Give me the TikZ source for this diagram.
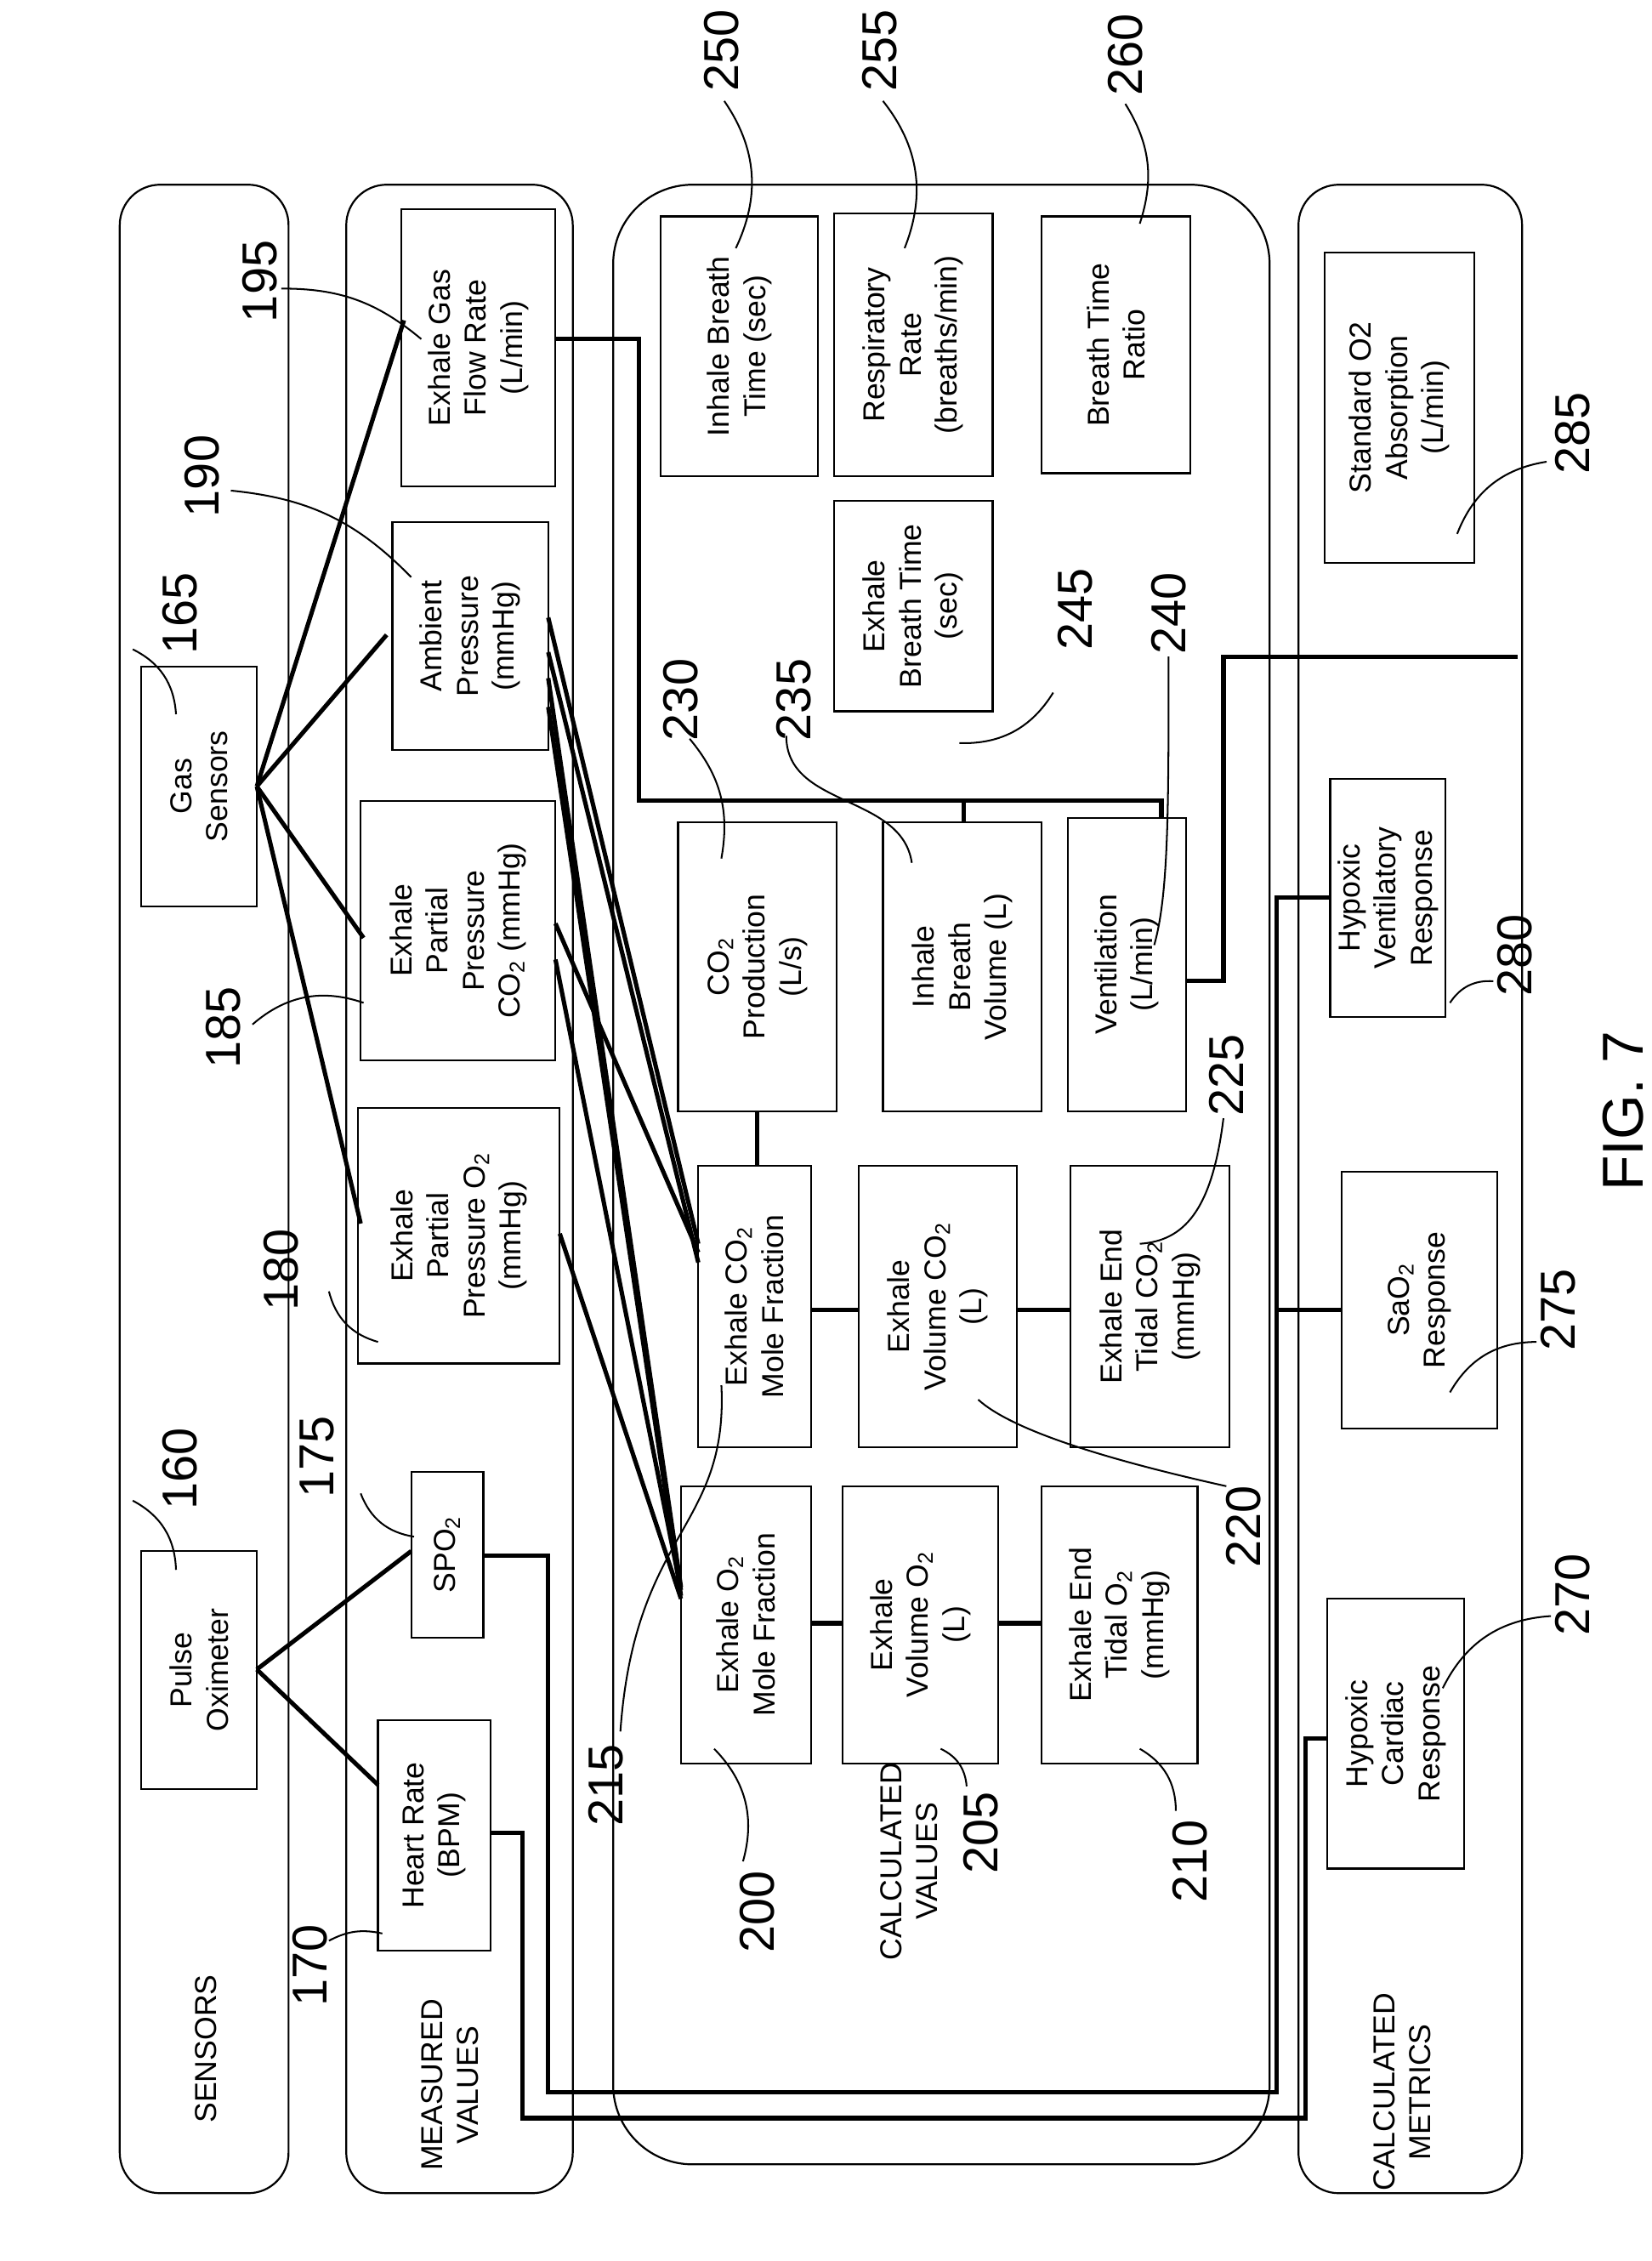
\documentclass[tikz,border=0pt]{standalone}
\usepackage{fontspec}
\setmainfont{Liberation Sans}
\begin{document}
\begin{tikzpicture}[x=1pt,y=-1pt,
 box/.style={draw,line width=1.3pt,inner sep=0pt,outer sep=0pt},
 txt/.style={rotate=90,align=center,font=\fontsize{21}{25}\selectfont},
 num/.style={rotate=90,font=\fontsize{34}{36}\selectfont},
 pan/.style={draw,line width=1.3pt,rounded corners=28pt},
 con/.style={line width=3pt},
 lead/.style={line width=1.2pt}]
\useasboundingbox (0,0) rectangle (1145,1567);
\newcommand\bx[6]{\node[box,minimum width={(#4-#2)*1pt},minimum height={(#5-#3)*1pt}] (#1) at ({(#2+#4)/2},{(#3+#5)/2}) {};\node[txt] at (#1) {#6};}
% panels
\node[pan,minimum width=117pt,minimum height=1392pt,inner sep=0pt] (psens) at (141.5,824) {};
\node[pan,minimum width=157pt,minimum height=1392pt,inner sep=0pt] (pmeas) at (318.5,824) {};
\node[draw,line width=1.3pt,rounded corners=55pt,minimum width=455pt,minimum height=1372pt,inner sep=0pt] (pcalc) at (652.5,814) {};
\node[pan,minimum width=155pt,minimum height=1392pt,inner sep=0pt] (pmet) at (977.5,824) {};
\node[txt] at (143,1420) {SENSORS};
\node[txt] at (312,1445) {MEASURED\\VALUES};
\node[txt] at (630,1290) {CALCULATED\\VALUES};
\node[txt] at (972,1450) {CALCULATED\\METRICS};
% boxes
\bx{gas}{98}{462}{178}{628}{Gas\\Sensors}
\bx{pox}{98}{1075}{178}{1240}{Pulse\\Oximeter}
\bx{flow}{278}{145}{385}{337}{Exhale Gas\\Flow Rate\\(L/min)}
\bx{amb}{272}{362}{380}{520}{Ambient\\Pressure\\(mmHg)}
\bx{ppco}{250}{555}{385}{735}{Exhale\\Partial\\Pressure\\CO\textsubscript{2} (mmHg)}
\bx{ppo}{248}{768}{388}{945}{Exhale\\Partial\\Pressure O\textsubscript{2}\\(mmHg)}
\bx{spo}{285}{1020}{335}{1135}{SPO\textsubscript{2}}
\bx{hr}{262}{1192}{340}{1352}{Heart Rate\\(BPM)}
\bx{ibt}{458}{150}{567}{330}{Inhale Breath\\Time (sec)}
\bx{rr}{578}{148}{688}{330}{Respiratory\\Rate\\(breaths/min)}
\bx{btr}{722}{150}{825}{328}{Breath Time\\Ratio}
\bx{ebt}{578}{347}{688}{493}{Exhale\\Breath Time\\(sec)}
\bx{cop}{470}{570}{580}{770}{CO\textsubscript{2}\\Production\\(L/s)}
\bx{ibv}{612}{570}{722}{770}{Inhale\\Breath\\Volume (L)}
\bx{ven}{740}{567}{822}{770}{Ventilation\\(L/min)}
\bx{comf}{484}{808}{562}{1003}{Exhale CO\textsubscript{2}\\Mole Fraction}
\bx{vco}{595}{808}{705}{1003}{Exhale\\Volume CO\textsubscript{2}\\(L)}
\bx{etco}{742}{808}{852}{1003}{Exhale End\\Tidal CO\textsubscript{2}\\(mmHg)}
\bx{omf}{472}{1030}{562}{1222}{Exhale O\textsubscript{2}\\Mole Fraction}
\bx{vo}{584}{1030}{692}{1222}{Exhale\\Volume O\textsubscript{2}\\(L)}
\bx{eto}{722}{1030}{830}{1222}{Exhale End\\Tidal O\textsubscript{2}\\(mmHg)}
\bx{soa}{918}{175}{1022}{390}{Standard O2\\Absorption\\(L/min)}
\bx{hvr}{922}{540}{1002}{705}{Hypoxic\\Ventilatory\\Response}
\bx{sao}{930}{812}{1038}{990}{SaO\textsubscript{2}\\Response}
\bx{hcr}{920}{1108}{1015}{1295}{Hypoxic\\Cardiac\\Response}
% sensor connectors
\coordinate (g) at (178,545);
\draw[con] (g) -- (280,222);
\draw[con] (g) -- (268,440);
\draw[con] (g) -- (252,650);
\draw[con] (g) -- (250,848);
\coordinate (p) at (178,1157);
\draw[con] (p) -- (285,1075);
\draw[con] (p) -- (262,1237);
% fan lines
\draw[con] (380,428) -- (484,862);
\draw[con] (380,452) -- (484,875);
\draw[con] (380,470) -- (472,1100);
\draw[con] (380,490) -- (472,1106);
\draw[con] (385,640) -- (484,868);
\draw[con] (385,665) -- (472,1102);
\draw[con] (388,855) -- (472,1108);
% calc connectors
\draw[con] (flow.east |- 0,235) -- (443,235) -- (443,555) -- (805,555) -- (805,567);
\draw[con] (668,555) -- (668,570);
\draw[con] (525,770) -- (525,808);
\draw[con] (562,908) -- (595,908);
\draw[con] (705,908) -- (742,908);
\draw[con] (562,1125) -- (584,1125);
\draw[con] (692,1125) -- (722,1125);
\draw[con] (822,680) -- (848,680) -- (848,455) -- (1052,455);
% metrics bus
\draw[con] (335,1078) -- (380,1078) -- (380,1450) -- (885,1450) -- (885,622) -- (hvr.west |- 0,622);
\draw[con] (885,908) -- (930,908);
\draw[con] (340,1270) -- (362,1270) -- (362,1468) -- (905,1468) -- (905,1205) -- (920,1205);
% labels
\node[num] at (125,1018) {160}; \draw[lead] (92,1040) to[bend left=30] (122,1088);
\node[num] at (125,425) {165}; \draw[lead] (92,450) to[bend left=30] (122,495);
\node[num] at (215,1362) {170}; \draw[lead] (228,1345) to[bend left=20] (265,1340);
\node[num] at (220,1010) {175}; \draw[lead] (250,1035) to[bend right=30] (287,1065);
\node[num] at (195,880) {180}; \draw[lead] (228,895) to[bend right=30] (262,930);
\node[num] at (155,712) {185}; \draw[lead] (175,710) to[bend left=30] (252,695);
\node[num] at (140,330) {190}; \draw[lead] (160,340) to[bend left=20] (285,400);
\node[num] at (180,195) {195}; \draw[lead] (195,200) to[bend left=20] (292,235);
\node[num] at (525,1325) {200}; \draw[lead] (515,1290) to[bend right=30] (495,1212);
\node[num] at (680,1270) {205}; \draw[lead] (670,1238) to[bend right=30] (652,1212);
\node[num] at (825,1290) {210}; \draw[lead] (815,1255) to[bend right=30] (790,1212);
\node[num] at (420,1237) {215}; \draw[lead] (430,1200) .. controls (440,1060) and (505,1060) .. (500,960);
\node[num] at (862,1058) {220}; \draw[lead] (850,1030) .. controls (760,1010) and (700,990) .. (678,970);
\node[num] at (850,745) {225}; \draw[lead] (848,775) .. controls (840,840) and (820,860) .. (790,862);
\node[num] at (472,485) {230}; \draw[lead] (478,512) to[bend left=25] (500,595);
\node[num] at (550,485) {235}; \draw[lead] (545,510) .. controls (545,560) and (625,550) .. (632,598);
\node[num] at (810,425) {240}; \draw[lead] (810,455) .. controls (810,560) and (810,620) .. (800,655);
\node[num] at (745,422) {245}; \draw[lead] (730,480) to[bend left=30] (665,515);
\node[num] at (500,35) {250}; \draw[lead] (502,70) to[bend left=30] (510,172);
\node[num] at (610,35) {255}; \draw[lead] (612,70) to[bend left=30] (627,172);
\node[num] at (780,38) {260}; \draw[lead] (780,72) to[bend left=25] (790,155);
\node[num] at (1090,1105) {270}; \draw[lead] (1075,1120) to[bend right=30] (1000,1170);
\node[num] at (1080,908) {275}; \draw[lead] (1065,930) to[bend right=30] (1005,965);
\node[num] at (1050,662) {280}; \draw[lead] (1035,680) to[bend right=30] (1005,695);
\node[num] at (1090,300) {285}; \draw[lead] (1072,320) to[bend right=30] (1010,370);
\node[rotate=90,font=\fontsize{40}{44}\selectfont] at (1125,770) {FIG. 7};
\end{tikzpicture}
\end{document}
